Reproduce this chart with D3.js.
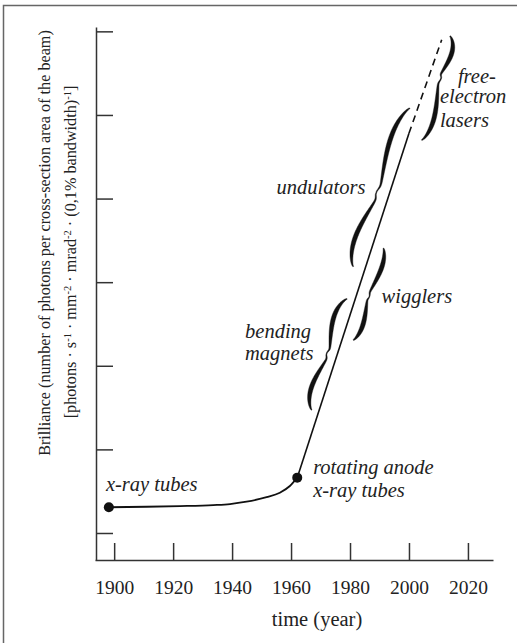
<!DOCTYPE html>
<html>
<head>
<meta charset="utf-8">
<script src="https://cdn.jsdelivr.net/npm/d3@7"></script>
<style>
body { margin: 0; background: #fff; }
svg { display: block; }
text { font-family: "Liberation Serif", "Times New Roman", serif; fill: #222; }
.note { font-style: italic; font-size: 20.5px; }
</style>
</head>
<body>
<svg id="chart"></svg>
<script>
// brilliance given as log10 of the value, ticks every 5 orders (unlabelled)
var curveYears = [1898.2, 1911, 1922.3, 1933.6, 1939.3, 1944.9, 1951.7, 1956.2, 1959.6, 1962.1];
var curveValues = [6.54, 6.57, 6.61, 6.67, 6.73, 6.87, 7.14, 7.41, 7.81, 8.31];
var riseYears = [1962.1, 2000];
var riseValues = [8.31, 28.9];
var dashYears = [2000, 2011.1];
var dashValues = [28.9, 34.5];
var dotYears = [1898.2, 1962.1];
var dotValues = [6.54, 8.31];
var xTicks = [1900, 1920, 1940, 1960, 1980, 2000, 2020];
var yTicks = [5, 10, 15, 20, 25, 30, 35];

// braces beside the line: [year, value] at each end
var braceTop = [[1979.0, 19.0], [1991.3, 22.03], [2000.3, 30.4], [2013.9, 34.72]];
var braceBottom = [[1967.0, 12.36], [1981.1, 16.54], [1981.1, 20.93], [2004.3, 28.5]];

// annotation text and where it sits, [year, value]
var noteText = ["x-ray tubes", "rotating anode", "x-ray tubes", "bending", "magnets",
    "wigglers", "undulators", "free-", "electron", "lasers"];
var notePos = [[1897.2, 7.51], [1967.5, 8.53], [1967.5, 7.15], [1944.4, 16.64], [1944.4, 15.35],
    [1990.7, 18.74], [1955.1, 25.26], [2016.6, 31.9], [2010.5, 30.7], [2010.5, 29.3]];

var width = 517, height = 643;
var svg = d3.select("#chart").attr("width", width).attr("height", height);

var x = d3.scaleLinear().domain([1893.5, 2028.5]).range([95, 493]);
var y = d3.scaleLinear().domain([3.385, 35.26]).range([560, 27]);

// frame (only top and left show inside the window)
svg.append("rect")
    .attr("x", 3.5).attr("y", 5.5)
    .attr("width", 620).attr("height", 700)
    .attr("fill", "none").attr("stroke", "#666").attr("stroke-width", 1.5);

var xAxis = svg.append("g")
    .attr("transform", "translate(0,560)")
    .call(d3.axisBottom(x).tickValues(xTicks).tickSizeInner(-17).tickSizeOuter(0).tickPadding(20).tickFormat(d3.format("d")));
var yAxis = svg.append("g")
    .attr("transform", "translate(96,0)")
    .call(d3.axisLeft(y).tickValues(yTicks).tickSizeInner(-17).tickSizeOuter(0).tickFormat(""));

[xAxis, yAxis].forEach(function (g) {
    g.selectAll("path, line").attr("stroke", "#333").attr("stroke-width", 1.5);
    g.selectAll("text")
        .attr("font-family", "Liberation Serif, serif")
        .attr("font-size", 19.5)
        .attr("fill", "#222");
});

svg.append("text")
    .attr("x", 317).attr("y", 626)
    .attr("text-anchor", "middle")
    .attr("font-size", 20.5)
    .text("time (year)");

// y label, two rotated lines
svg.append("text")
    .attr("transform", "translate(50,243) rotate(-90)")
    .attr("text-anchor", "middle")
    .attr("font-size", 16.2)
    .text("Brilliance (number of photons per cross-section area of the beam)");

var unitLine = svg.append("text")
    .attr("transform", "translate(76,252) rotate(-90)")
    .attr("text-anchor", "middle")
    .attr("font-size", 16.2);
var unitParts = [["[photons · s", ""], ["-1", "sup"], [" · mm", ""], ["-2", "sup"],
    [" · mrad", ""], ["-2", "sup"], [" · (0,1% bandwidth)", ""], ["-1", "sup"], ["]", ""]];
unitParts.forEach(function (p) {
    var t = unitLine.append("tspan").text(p[0]);
    if (p[1] === "sup") t.attr("font-size", 10.5).attr("baseline-shift", "super");
});

// the curve and the line
var line = d3.line().x(function (d) { return x(d[0]); }).y(function (d) { return y(d[1]); });

svg.append("path")
    .attr("d", line.curve(d3.curveMonotoneX)(d3.zip(curveYears, curveValues)))
    .attr("fill", "none").attr("stroke", "#111").attr("stroke-width", 1.8);

line.curve(d3.curveLinear);
svg.append("path")
    .attr("d", line(d3.zip(riseYears, riseValues)))
    .attr("fill", "none").attr("stroke", "#111").attr("stroke-width", 1.6);
svg.append("path")
    .attr("d", line(d3.zip(dashYears, dashValues)))
    .attr("fill", "none").attr("stroke", "#111").attr("stroke-width", 1.6)
    .attr("stroke-dasharray", "7,5");

svg.selectAll("circle.dot")
    .data(d3.zip(dotYears, dotValues))
    .enter().append("circle")
    .attr("class", "dot")
    .attr("cx", function (d) { return x(d[0]); })
    .attr("cy", function (d) { return y(d[1]); })
    .attr("r", 5)
    .attr("fill", "#111");

// calligraphic curly braces, each half drawn as its own filled stroke
var braceSide = [-1, 1, -1, 1];
var braceBow = [8, 5, 9, 7];
var braceTip = [0.5, 0.52, 0.54, 0.4];

function halfBrace(a, b, side, bow, tip, upper) {
    var dx = b[0] - a[0], dy = b[1] - a[1], len = Math.hypot(dx, dy);
    var ux = dx / len, uy = dy / len;
    var nx = -uy, ny = ux;
    if (nx * side < 0) { nx = -nx; ny = -ny; }
    var n = 100, mid = [], half = [];
    for (var i = 0; i <= n; i++) {
        var s = i / n;                       // 0 at the end, 1 at the tip
        var t = upper ? s * tip : 1 - s * (1 - tip);
        var k = Math.sin(Math.PI * Math.pow(s, 0.75));
        var w = bow * k * (1 - 0.3 * s) + 0.35 * bow * Math.exp(-Math.pow((1 - s) / 0.06, 2));
        mid.push([a[0] + ux * t * len + nx * w, a[1] + uy * t * len + ny * w]);
        half.push(0.4 + 1.8 * k);
    }
    var left = [], right = [];
    for (i = 0; i <= n; i++) {
        var p = mid[Math.max(i - 1, 0)], q = mid[Math.min(i + 1, n)];
        var tx = q[0] - p[0], ty = q[1] - p[1], tl = Math.hypot(tx, ty) || 1;
        var ox = -ty / tl * half[i], oy = tx / tl * half[i];
        left.push([mid[i][0] + ox, mid[i][1] + oy]);
        right.push([mid[i][0] - ox, mid[i][1] - oy]);
    }
    return d3.line()(left.concat(right.reverse())) + "Z";
}

braceTop.forEach(function (top, i) {
    var a = [x(top[0]), y(top[1])];
    var b = [x(braceBottom[i][0]), y(braceBottom[i][1])];
    [true, false].forEach(function (upper) {
        svg.append("path")
            .attr("d", halfBrace(a, b, braceSide[i], braceBow[i], braceTip[i], upper))
            .attr("fill", "#111")
            .attr("stroke", "#111").attr("stroke-width", 0.4)
            .attr("stroke-linejoin", "round");
    });
});

svg.selectAll("text.note")
    .data(noteText)
    .enter().append("text")
    .attr("class", "note")
    .attr("x", function (d, i) { return x(notePos[i][0]); })
    .attr("y", function (d, i) { return y(notePos[i][1]); })
    .text(function (d) { return d; });
</script>
</body>
</html>
